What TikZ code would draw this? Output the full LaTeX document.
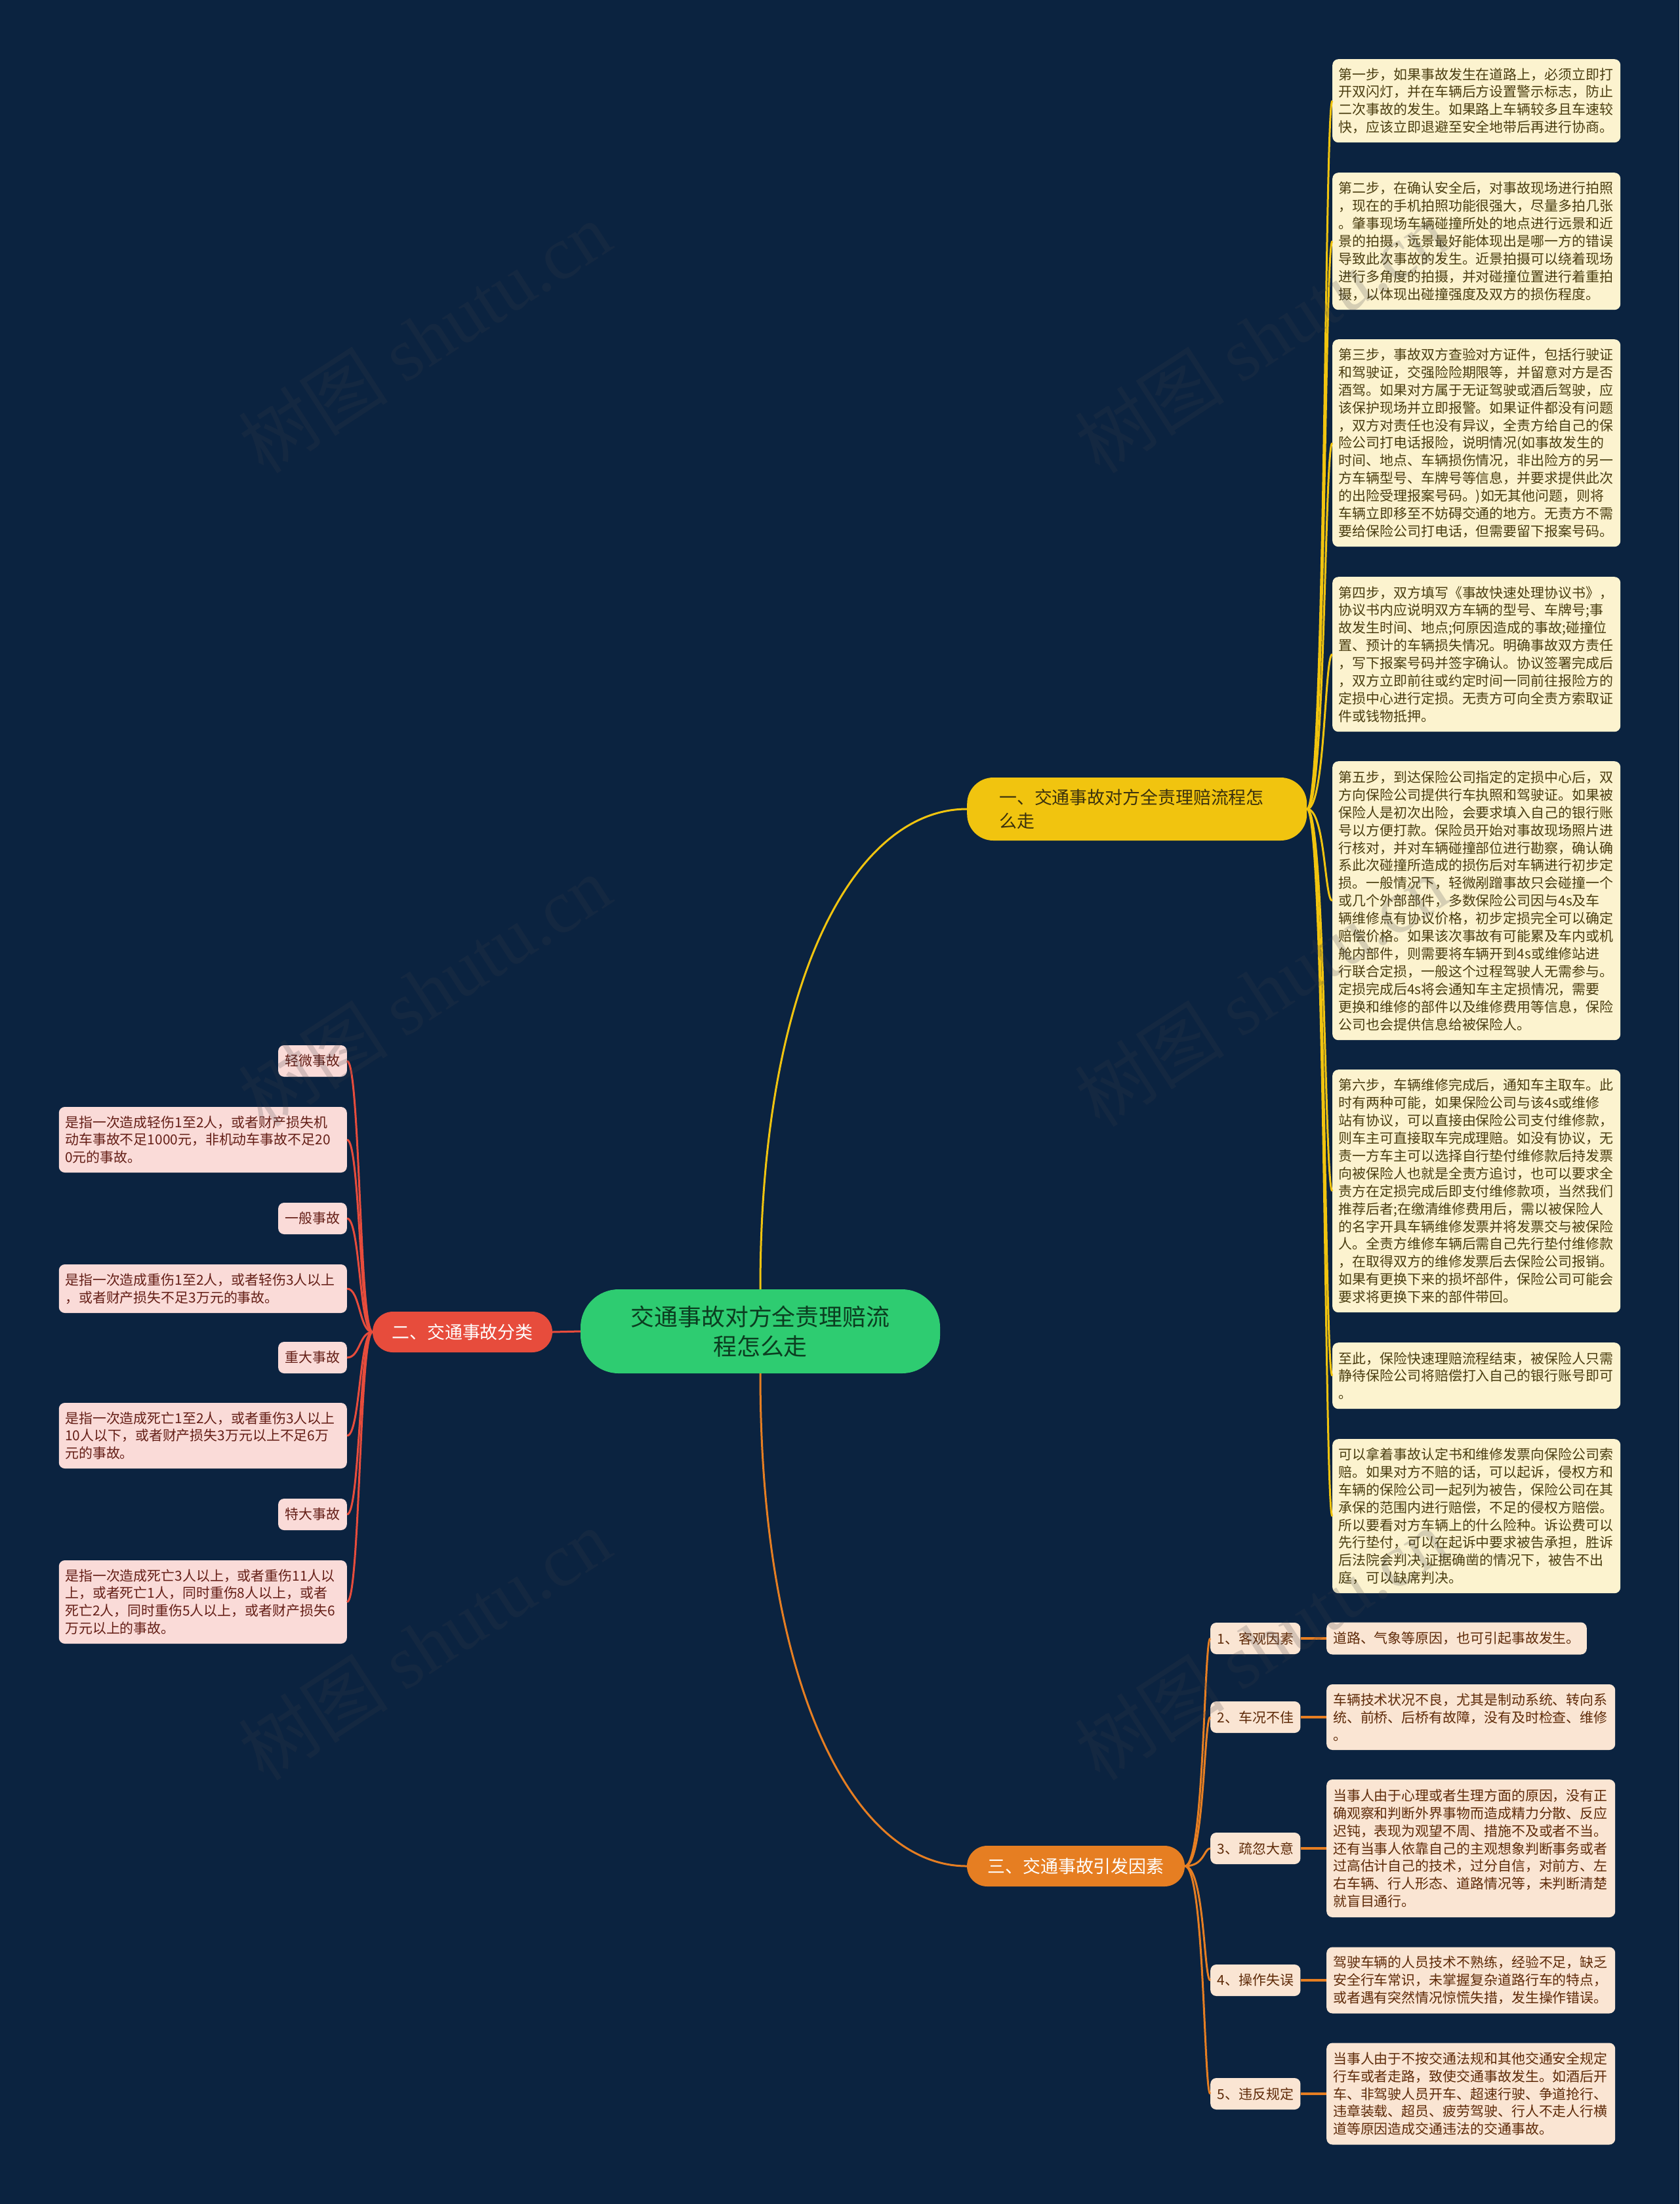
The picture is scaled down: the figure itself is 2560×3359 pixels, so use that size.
\documentclass[tikz,border=0pt]{standalone}
\usepackage{fontspec}
\setmainfont{Noto Sans CJK SC}
\newfontfamily\wmserif{Liberation Serif}
\usetikzlibrary{calc}
\definecolor{bg}{HTML}{0B2340}
\definecolor{cyel}{HTML}{F1C40F}
\definecolor{cred}{HTML}{E74C3C}
\definecolor{corg}{HTML}{E67E22}
\definecolor{cgrn}{HTML}{2ECC71}
\definecolor{fyel}{HTML}{FCF3CF}
\definecolor{fred}{HTML}{FADBD8}
\definecolor{forg}{HTML}{FAE5D3}
\definecolor{tyel}{HTML}{4A3D10}
\definecolor{tred}{HTML}{641E16}
\definecolor{torg}{HTML}{5E2A08}
\definecolor{tgrn}{HTML}{0B3D20}
\definecolor{wmc}{HTML}{3C3C46}
\tikzset{
  base/.style={rounded corners=9bp, inner ysep=0pt, font=\fontsize{21}{27}\selectfont},
  ybox/.style={base, fill=fyel, text=tyel, align=left, text width=420bp, inner xsep=9.5bp, anchor=north west},
  rdesc/.style={base, fill=fred, text=tred, align=left, text width=420bp, inner xsep=9.5bp, anchor=east},
  rlab/.style={base, fill=fred, text=tred, inner xsep=10.5bp, minimum height=48bp, anchor=east},
  odesc/.style={base, fill=forg, text=torg, align=left, inner xsep=10bp, anchor=west},
  olab/.style={base, fill=forg, text=torg, inner xsep=10.5bp, minimum height=48bp, anchor=west},
  cnode/.style={fill=cgrn, text=tgrn, rounded corners=58bp, minimum width=548bp, minimum height=128bp, align=center, inner sep=0pt, font=\fontsize{36}{45}\selectfont},
  bnode/.style={rounded corners=31bp, minimum height=62bp, inner sep=0pt, text=white, font=\fontsize{27}{36}\selectfont},
  yline/.style={draw=cyel, line width=3bp},
  rline/.style={draw=cred, line width=3bp},
  oline/.style={draw=corg, line width=3bp},
  othick/.style={draw=corg, line width=4bp},
  wm/.style={rotate=33, text=wmc, text opacity=0.2, font=\fontsize{115}{115}\selectfont},
}
\begin{document}
\begin{tikzpicture}[x=1bp, y=-1bp]
\fill[bg] (0,0) rectangle (2560,3359);
\useasboundingbox (0,0) rectangle (2560,3359);

% center and main branches
\node[cnode] (c) at (1159,2029) {交通事故对方全责理赔流\\程怎么走};
\node[bnode, fill=cyel, text=tyel!80!black, rounded corners=40bp, minimum height=96bp, text width=420bp, inner xsep=49bp, align=left, anchor=west] (b1) at (1474,1233) {一、交通事故对方全责理赔流程怎\\么走};
\node[bnode, fill=cred, minimum width=274bp] (b2) at (705,2030) {二、交通事故分类};
\node[bnode, fill=corg, minimum width=332bp] (b3) at (1640,2844) {三、交通事故引发因素};

\draw[yline] (c.north) .. controls +(0,-464) and +(-174,0) .. (b1.west);
\draw[oline] (c.south) .. controls +(0,474) and +(-174,0) .. (b3.west);
\draw[rline] (c.west) -- (b2.east);

% branch 1 children
\node[ybox, minimum height=127bp] (r1) at (2031,90) {第一步，如果事故发生在道路上，必须立即打\\开双闪灯，并在车辆后方设置警示标志，防止\\二次事故的发生。如果路上车辆较多且车速较\\快，应该立即退避至安全地带后再进行协商。};
\node[ybox, minimum height=209bp] (r2) at (2031,263) {第二步，在确认安全后，对事故现场进行拍照\\，现在的手机拍照功能很强大，尽量多拍几张\\。肇事现场车辆碰撞所处的地点进行远景和近\\景的拍摄，远景最好能体现出是哪一方的错误\\导致此次事故的发生。近景拍摄可以绕着现场\\进行多角度的拍摄，并对碰撞位置进行着重拍\\摄，以体现出碰撞强度及双方的损伤程度。};
\node[ybox, minimum height=316bp] (r3) at (2031,517) {第三步，事故双方查验对方证件，包括行驶证\\和驾驶证，交强险险期限等，并留意对方是否\\酒驾。如果对方属于无证驾驶或酒后驾驶，应\\该保护现场并立即报警。如果证件都没有问题\\，双方对责任也没有异议，全责方给自己的保\\险公司打电话报险，说明情况(如事故发生的\\时间、地点、车辆损伤情况，非出险方的另一\\方车辆型号、车牌号等信息，并要求提供此次\\的出险受理报案号码。)如无其他问题，则将\\车辆立即移至不妨碍交通的地方。无责方不需\\要给保险公司打电话，但需要留下报案号码。};
\node[ybox, minimum height=236bp] (r4) at (2031,879) {第四步，双方填写《事故快速处理协议书》，\\协议书内应说明双方车辆的型号、车牌号;事\\故发生时间、地点;何原因造成的事故;碰撞位\\置、预计的车辆损失情况。明确事故双方责任\\，写下报案号码并签字确认。协议签署完成后\\，双方立即前往或约定时间一同前往报险方的\\定损中心进行定损。无责方可向全责方索取证\\件或钱物抵押。};
\node[ybox, minimum height=425bp] (r5) at (2031,1160) {第五步，到达保险公司指定的定损中心后，双\\方向保险公司提供行车执照和驾驶证。如果被\\保险人是初次出险，会要求填入自己的银行账\\号以方便打款。保险员开始对事故现场照片进\\行核对，并对车辆碰撞部位进行勘察，确认确\\系此次碰撞所造成的损伤后对车辆进行初步定\\损。一般情况下，轻微剐蹭事故只会碰撞一个\\或几个外部部件，多数保险公司因与4s及车\\辆维修点有协议价格，初步定损完全可以确定\\赔偿价格。如果该次事故有可能累及车内或机\\舱内部件，则需要将车辆开到4s或维修站进\\行联合定损，一般这个过程驾驶人无需参与。\\定损完成后4s将会通知车主定损情况，需要\\更换和维修的部件以及维修费用等信息，保险\\公司也会提供信息给被保险人。};
\node[ybox, minimum height=370bp] (r6) at (2031,1630) {第六步，车辆维修完成后，通知车主取车。此\\时有两种可能，如果保险公司与该4s或维修\\站有协议，可以直接由保险公司支付维修款，\\则车主可直接取车完成理赔。如没有协议，无\\责一方车主可以选择自行垫付维修款后持发票\\向被保险人也就是全责方追讨，也可以要求全\\责方在定损完成后即支付维修款项，当然我们\\推荐后者;在缴清维修费用后，需以被保险人\\的名字开具车辆维修发票并将发票交与被保险\\人。全责方维修车辆后需自己先行垫付维修款\\，在取得双方的维修发票后去保险公司报销。\\如果有更换下来的损坏部件，保险公司可能会\\要求将更换下来的部件带回。};
\node[ybox, minimum height=101bp] (r7) at (2031,2046) {至此，保险快速理赔流程结束，被保险人只需\\静待保险公司将赔偿打入自己的银行账号即可\\。};
\node[ybox, minimum height=235bp] (r8) at (2031,2193) {可以拿着事故认定书和维修发票向保险公司索\\赔。如果对方不赔的话，可以起诉，侵权方和\\车辆的保险公司一起列为被告，保险公司在其\\承保的范围内进行赔偿，不足的侵权方赔偿。\\所以要看对方车辆上的什么险种。诉讼费可以\\先行垫付，可以在起诉中要求被告承担，胜诉\\后法院会判决,证据确凿的情况下，被告不出\\庭，可以缺席判决。};
\foreach \n in {r1,r2,r3,r4,r5,r6,r7,r8}
  \draw[yline] (b1.east) .. controls +(28,0) and +(-12,0) .. (\n.west);

% branch 2 children
\node[rlab] (l1) at (529,1617) {轻微事故};
\node[rdesc, minimum height=100bp] (ld1) at (529,1737) {是指一次造成轻伤1至2人，或者财产损失机\\动车事故不足1000元，非机动车事故不足20\\0元的事故。};
\node[rlab] (l2) at (529,1857) {一般事故};
\node[rdesc, minimum height=74bp] (ld2) at (529,1964) {是指一次造成重伤1至2人，或者轻伤3人以上\\，或者财产损失不足3万元的事故。};
\node[rlab] (l3) at (529,2069) {重大事故};
\node[rdesc, minimum height=100bp] (ld3) at (529,2188) {是指一次造成死亡1至2人，或者重伤3人以上\\10人以下，或者财产损失3万元以上不足6万\\元的事故。};
\node[rlab] (l4) at (529,2308) {特大事故};
\node[rdesc, minimum height=127bp] (ld4) at (529,2441.5) {是指一次造成死亡3人以上，或者重伤11人以\\上，或者死亡1人，同时重伤8人以上，或者\\死亡2人，同时重伤5人以上，或者财产损失6\\万元以上的事故。};
\foreach \n in {l1,ld1,l2,ld2,l3,ld3,l4,ld4}
  \draw[rline] (b2.west) .. controls +(-20,0) and +(20,0) .. (\n.east);

% branch 3 children
\node[olab] (o1) at (1845,2497) {1、客观因素};
\node[olab] (o2) at (1845,2617) {2、车况不佳};
\node[olab] (o3) at (1845,2817) {3、疏忽大意};
\node[olab] (o4) at (1845,3018) {4、操作失误};
\node[olab] (o5) at (1845,3191) {5、违反规定};
\node[odesc, minimum height=49bp] (od1) at (2022,2497) {道路、气象等原因，也可引起事故发生。};
\node[odesc, text width=420bp, minimum height=100bp] (od2) at (2022,2617) {车辆技术状况不良，尤其是制动系统、转向系\\统、前桥、后桥有故障，没有及时检查、维修\\。};
\node[odesc, text width=420bp, minimum height=210bp] (od3) at (2022,2817) {当事人由于心理或者生理方面的原因，没有正\\确观察和判断外界事物而造成精力分散、反应\\迟钝，表现为观望不周、措施不及或者不当。\\还有当事人依靠自己的主观想象判断事务或者\\过高估计自己的技术，过分自信，对前方、左\\右车辆、行人形态、道路情况等，未判断清楚\\就盲目通行。};
\node[odesc, text width=420bp, minimum height=101bp] (od4) at (2022,3018) {驾驶车辆的人员技术不熟练，经验不足，缺乏\\安全行车常识，未掌握复杂道路行车的特点，\\或者遇有突然情况惊慌失措，发生操作错误。};
\node[odesc, text width=420bp, minimum height=155bp] (od5) at (2022,3191) {当事人由于不按交通法规和其他交通安全规定\\行车或者走路，致使交通事故发生。如酒后开\\车、非驾驶人员开车、超速行驶、争道抢行、\\违章装载、超员、疲劳驾驶、行人不走人行横\\道等原因造成交通违法的交通事故。};
\foreach \n in {o1,o2,o3,o4,o5}
  \draw[oline] (b3.east) .. controls +(30,0) and +(-10,0) .. (\n.west);
\foreach \n in {1,...,5}
  \draw[othick] (o\n.east) -- (od\n.west);

% watermarks
\foreach \wx/\wy [count=\i] in {647/514, 647/1510, 647/2506, 1922/514, 1922/1510, 1922/2506}
  \node[wm] (wm\i) at (\wx,\wy) {树图 {\wmserif shutu.cn}};
\end{tikzpicture}
\end{document}
